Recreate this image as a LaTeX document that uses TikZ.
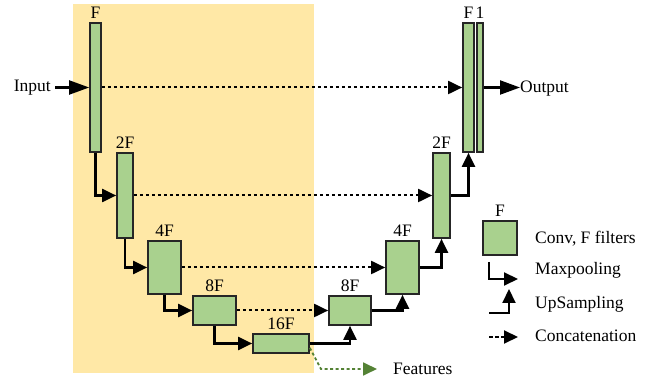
\documentclass[tikz,border=0pt]{standalone}
\usepackage{fontspec}
\setmainfont{Liberation Serif}
\usetikzlibrary{arrows.meta, positioning, calc}
\definecolor{encbg}{HTML}{FFE8A6}
\definecolor{convgreen}{HTML}{A9D18E}
\definecolor{featgreen}{HTML}{548235}
\tikzstyle{conv} = [rectangle, draw=black!85, line width=1.7pt, fill=convgreen, inner sep=0pt]
\tikzstyle{lbl} = [inner sep=0pt, label distance=3pt, font=\fontsize{17.5}{20}\selectfont]
\tikzstyle{txt} = [inner sep=0pt, font=\fontsize{17.5}{20}\selectfont]
\tikzstyle{pool} = [line width=2.1pt, -{Triangle[length=14pt, width=13pt]}]
\tikzstyle{io} = [line width=2.1pt, -{Triangle[length=20pt, width=14pt]}]
\tikzstyle{concat} = [line width=2pt, dash pattern=on 3.5pt off 2.5pt, -{Triangle[length=14pt, width=13pt]}]
\tikzstyle{feat} = [line width=1.8pt, featgreen, dash pattern=on 3pt off 2.5pt, -{Triangle[length=14pt, width=13pt]}]

\begin{document}
\begin{tikzpicture}[x=1pt, y=-1pt]
\useasboundingbox (0,0) rectangle (665,379);
\fill[encbg] (73,4) rectangle (314,373);
% contracting path
\node (enc1) [conv, minimum width=11pt, minimum height=129pt, label={[lbl]above:F}] at (95.5,87.5) {};
\node (enc2) [conv, minimum width=16pt, minimum height=85pt, label={[lbl]above:2F}] at (125,195.5) {};
\node (enc3) [conv, minimum width=33pt, minimum height=53pt, label={[lbl]above:4F}] at (164.5,267.5) {};
\node (enc4) [conv, minimum width=43pt, minimum height=29pt, label={[lbl]above:8F}] at (214.5,310.5) {};
\node (bott) [conv, minimum width=56pt, minimum height=19pt, label={[lbl]above:16F}] at (281,343.5) {};
% expanding path
\node (dec4) [conv, minimum width=42pt, minimum height=29pt, label={[lbl]above:8F}] at (350,310.5) {};
\node (dec3) [conv, minimum width=33pt, minimum height=53pt, label={[lbl]above:4F}] at (402.5,267.5) {};
\node (dec2) [conv, minimum width=17pt, minimum height=85pt, label={[lbl]above:2F}] at (441.5,195.5) {};
\node (dec1) [conv, minimum width=11pt, minimum height=129pt, label={[lbl]above:F}] at (468.5,87.5) {};
\node (out1) [conv, minimum width=6pt, minimum height=129pt, label={[lbl]above:1}] at (480,87.5) {};
% texts
\node (input) [txt, anchor=base east] at (51,92) {Input};
\node (output) [txt, anchor=base west] at (520,93) {Output};
\node (features) [txt, anchor=base west] at (393,375) {Features};
\coordinate (featbend) at (321,369);
\coordinate (featend) at (377,369);
% legend
\node (legconv) [conv, minimum width=34pt, minimum height=34pt, label={[lbl]above:F}] at (500,238) {};
\node (legconvtxt) [txt, anchor=base west] at (535,244) {Conv, F filters};
\coordinate (mpA) at (489,262);
\coordinate (mpB) at (518,279);
\node (legmptxt) [txt, anchor=base west] at (535,275) {Maxpooling};
\coordinate (upA) at (489,313);
\coordinate (upB) at (509,289);
\node (leguptxt) [txt, anchor=base west] at (535,309) {UpSampling};
\coordinate (ccA) at (489,337);
\coordinate (ccB) at (518,337);
\node (legcctxt) [txt, anchor=base west] at (535,342) {Concatenation};

\draw[io] (enc1.west -| input.east) ++(4,0) -- (enc1.west);
\draw[pool] (enc1.south) |- (enc2.west);
\draw[pool] (enc2.south) |- (enc3.west);
\draw[pool] (enc3.south) |- (enc4.west);
\draw[pool] (enc4.south) |- (bott.west);
\draw[pool] (bott.east) -| (dec4.south);
\draw[pool] (dec4.east) -| (dec3.south);
\draw[pool] (dec3.east) -| (dec2.south);
\draw[pool] (dec2.east) -| (dec1.south);
\draw[io] (out1.east) -- (out1.east -| output.west);
\draw[concat] (enc1.east) -- (dec1.west);
\draw[concat] (enc2.east) -- (dec2.west);
\draw[concat] (enc3.east) -- (dec3.west);
\draw[concat] (enc4.east) -- (dec4.west);
\draw[feat] ($(bott.south east)+(0,-6)$) -- (featbend) -- (featend);
\draw[pool] (mpA) |- (mpB);
\draw[pool] (upA) -| (upB);
\draw[concat] (ccA) -- (ccB);
\end{tikzpicture}
\end{document}
